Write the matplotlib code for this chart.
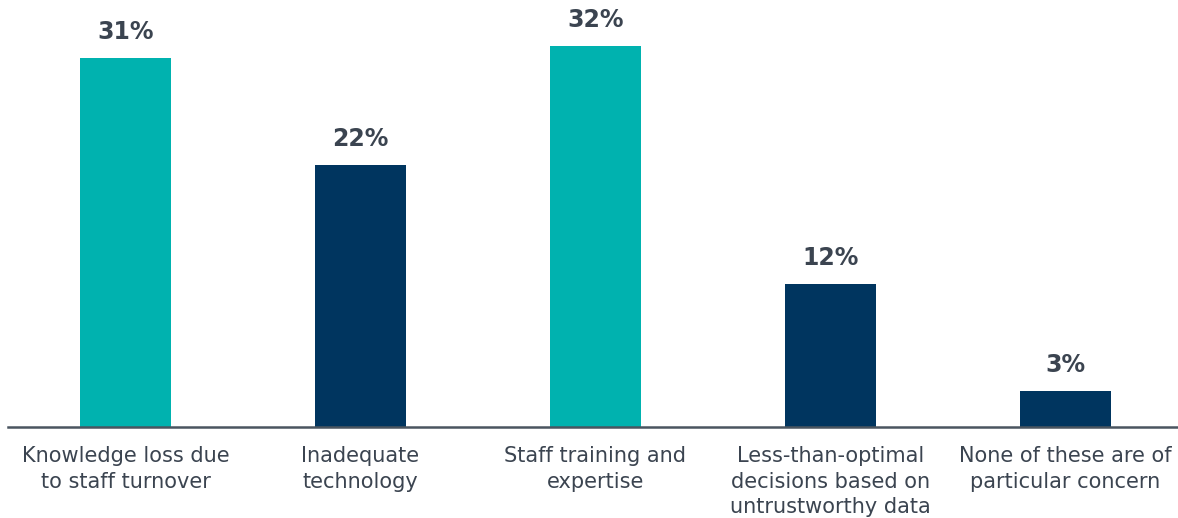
import matplotlib
matplotlib.use("Agg")
import matplotlib.pyplot as plt

categories = ["Knowledge loss due\nto staff turnover",
              "Inadequate\ntechnology",
              "Staff training and\nexpertise",
              "Less-than-optimal\ndecisions based on\nuntrustworthy data",
              "None of these are of\nparticular concern"]
values = [31, 22, 32, 12, 3]
colors = ["#00B2AF", "#00355F", "#00B2AF", "#00355F", "#00355F"]
text_color = "#3B4450"

fig = plt.figure(figsize=(11.78, 5.18), dpi=100)
ax = fig.add_axes([8/1178, 91/518, 1175/1178, 427/518])
x = range(len(values))
ax.bar(x, values, width=0.39, color=colors)
for xi, v in zip(x, values):
    ax.annotate(f"{v}%", (xi, v), xytext=(0, 10), textcoords="offset points",
                ha="center", va="bottom", fontsize=17, fontweight="bold",
                color=text_color)
ax.set_xlim(-0.5, 4.5)
ax.set_ylim(0, 35.9)
ax.set_xticks(list(x))
ax.set_xticklabels(categories, fontsize=15, color=text_color, linespacing=1.32)
ax.tick_params(axis="x", length=0, pad=14)
ax.set_yticks([])
for s in ["top", "right", "left"]:
    ax.spines[s].set_visible(False)
ax.spines["bottom"].set_color("#4A5560")
ax.spines["bottom"].set_linewidth(1.8)
fig.savefig("out.png", dpi=100)
